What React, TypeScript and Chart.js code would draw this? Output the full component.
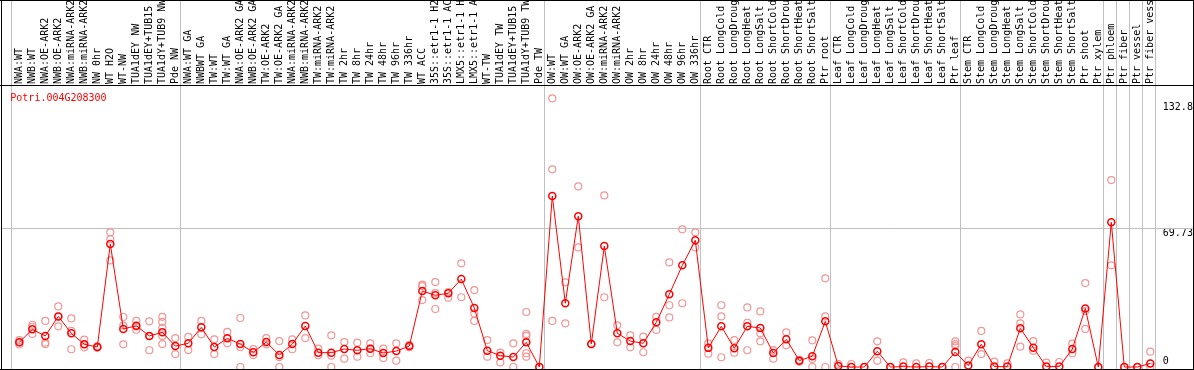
import React, { useEffect, useRef } from 'react';
import { Chart, registerables } from 'chart.js';

Chart.register(...registerables);

const title = 'Potri.004G208300';

const categories = [
  'NWA:WT', 'NWB:WT', 'NWA:OE-ARK2', 'NWB:OE-ARK2', 'NWA:miRNA-ARK2', 'NWB:miRNA-ARK2',
  'NW 0hr', 'WT H2O', 'WT-NW', 'TUA1dEY NW', 'TUA1dEY+TUB15 NW', 'TUA1dY+TUB9 NW', 'Pde NW',
  'NWA:WT GA', 'NWBWT GA', 'TW:WT', 'TW:WT GA', 'NWA:OE-ARK2 GA', 'NWB:OE-ARK2 GA',
  'TW:OE-ARK2', 'TW:OE-ARK2 GA', 'NWA:miRNA-ARK2 GA', 'NWB:miRNA-ARK2 GA', 'TW:miRNA-ARK2',
  'TW:miRNA-ARK2 GA', 'TW 2hr', 'TW 8hr', 'TW 24hr', 'TW 48hr', 'TW 96hr', 'TW 336hr',
  'WT ACC', '35S::etr1-1 H2O', '35S::etr1-1 ACC', 'LMX5::etr1-1 H2O', 'LMX5::etr1-1 ACC',
  'WT-TW', 'TUA1dEY TW', 'TUA1dEY+TUB15 TW', 'TUA1dY+TUB9 TW', 'Pde TW',
  'OW:WT', 'OW:WT GA', 'OW:OE-ARK2', 'OW:OE-ARK2 GA', 'OW:miRNA-ARK2', 'OW:miRNA-ARK2 GA',
  'OW 2hr', 'OW 8hr', 'OW 24hr', 'OW 48hr', 'OW 96hr', 'OW 336hr',
  'Root CTR', 'Root LongCold', 'Root LongDrought', 'Root LongHeat', 'Root LongSalt',
  'Root ShortCold', 'Root ShortDrought', 'Root ShortHeat', 'Root ShortSalt', 'Ptr root',
  'Leaf CTR', 'Leaf LongCold', 'Leaf LongDrought', 'Leaf LongHeat', 'Leaf LongSalt',
  'Leaf ShortCold', 'Leaf ShortDrought', 'Leaf ShortHeat', 'Leaf ShortSalt', 'Ptr leaf',
  'Stem CTR', 'Stem LongCold', 'Stem LongDrought', 'Stem LongHeat', 'Stem LongSalt',
  'Stem ShortCold', 'Stem ShortDrought', 'Stem ShortHeat', 'Stem ShortSalt', 'Ptr shoot',
  'Ptr xylem', 'Ptr phloem', 'Ptr fiber', 'Ptr vessel', 'Ptr fiber vessel',
];

const means = [
  12.4, 18.9, 15.6, 25.4, 16.9, 11.4, 10.0, 61.7, 19.1, 20.7, 15.6, 17.4, 10.5,
  11.9, 19.9, 10.0, 14.4, 11.5, 7.4, 12.5, 6.0, 11.5, 20.6, 7.2, 7.2, 9.0, 8.4, 9.2,
  7.0, 8.0, 10.5, 38.1, 36.0, 37.0, 44.1, 29.6, 8.2, 5.7, 5.0, 12.4, 0,
  85.8, 32.0, 75.7, 11.5, 60.7, 16.9, 13.0, 11.9, 22.4, 36.5, 51.0, 63.6,
  9.6, 20.4, 9.4, 20.4, 19.6, 7.0, 13.9, 3.2, 5.4, 22.9,
  0.5, 0, 0, 7.9, 0, 0.2, 0, 0.2, 0, 7.5,
  0.7, 11.4, 0.2, 0.2, 19.4, 9.7, 0.2, 0.2, 9.0, 29.4,
  0, 72.6, 0, 0, 1.8,
];

const replicates: number[][] = [
  [13.5, 11.3, 12.4], [21.2, 20.2, 16.6], [23.1, 12.2, 11.5], [30.4, 20.4, 25.4],
  [24.4, 18.1, 8.9], [13.7, 9.9, 11.4], [10.4, 9.6, 10.0], [67.6, 64.1, 53.5],
  [25.1, 11.4, 20.8], [23.1, 18.7, 20.3], [22.9, 8.4, 15.5], [25.2, 22.6, 19.7, 15.6, 11.5],
  [14.5, 6.5],
  [15.1, 8.5], [23.1, 16.4], [13.9, 6.5], [17.6, 11.9], [24.6, 0, 10.0], [9.0, 6.0],
  [14.5, 11.4], [13.0, 0, 5.0], [13.9, 8.9], [25.9, 14.5], [9.2, 5.9], [15.9, 0, 5.7],
  [12.5, 4.2], [12.2, 5.2], [11.9, 6.9, 9.2], [9.2, 4.5], [11.9, 3.2], [11.0, 9.9],
  [41.3, 40.6, 33.6], [42.6, 37.1, 29.1], [37.6, 34.8], [52.0, 35.0], [38.6, 26.9, 23.1],
  [13.5, 5.2], [7.2, 2.3], [11.9, 0], [27.6, 16.6, 15.6, 6.9, 5.2], [0],
  [134.8, 99.2, 23.1], [42.5, 21.9], [90.6, 60.0], [11.5], [86.1, 35.0], [20.9, 12.4],
  [15.9, 9.9], [15.2, 7.4], [25.2, 18.6], [52.5, 31.0, 24.9], [69.1, 32.0], [67.6, 60.0],
  [11.9, 6.7], [31.0, 25.4, 4.9], [13.5, 7.2], [29.9, 22.2, 8.4], [27.9, 16.9, 12.9],
  [8.5, 4.2], [17.4, 10.9], [3.6, 2.6], [13.4, 4.0, 0], [44.5, 25.4, 0],
  [1.5], [1.5], [0], [12.9, 3.2], [0], [2.3], [1.8], [2.0], [0], [12.9, 11.5, 10.5, 0],
  [3.2], [18.1, 6.5], [2.7], [1.8], [26.4, 21.9, 10.2], [13.0, 8.2], [2.2], [2.5],
  [11.7, 6.9], [42.1, 28.1, 19.1],
  [0], [93.8, 51.0], [0], [0], [7.7, 0],
];

// indices of the first category of each group (last entry = end of data)
const groupStarts = [0, 13, 41, 53, 63, 73, 84, 85, 86, 87, 88];

const yTickValues = [0, 69.73, 132.8];
const yTickLabels = ['0', '69.73', '132.8'];
const gridValue = 69.73;
const yMin = -1.0;
const yMax = 141;

const MONO = '"DejaVu Sans Mono", monospace';

export default function App() {
  const ref = useRef<HTMLCanvasElement>(null);

  useEffect(() => {
    const canvas = ref.current;
    if (!canvas) return;

    const repPoints = replicates.flatMap((vals, i) =>
      vals.map((v) => ({ x: categories[i], y: v }))
    );

    const decorPlugin = {
      id: 'decor',
      beforeDatasetsDraw(chart: any) {
        const { ctx } = chart;
        const x = chart.scales.x;
        const y = chart.scales.y;
        ctx.save();
        ctx.strokeStyle = '#c0c0c0';
        ctx.lineWidth = 1;
        const gy = Math.round(y.getPixelForValue(gridValue)) + 0.5;
        ctx.beginPath();
        ctx.moveTo(2, gy);
        ctx.lineTo(chart.width - 1, gy);
        ctx.stroke();
        const x0 = x.getPixelForValue(0);
        const step = x.getPixelForValue(1) - x0;
        groupStarts.forEach((i) => {
          const px = Math.round(x0 + step * i - 8) + 0.5;
          ctx.beginPath();
          ctx.moveTo(px, 0);
          ctx.lineTo(px, chart.height);
          ctx.stroke();
        });
        ctx.restore();
      },
      afterDraw(chart: any) {
        const { ctx, chartArea } = chart;
        const w = chart.width;
        const h = chart.height;
        ctx.save();
        ctx.fillStyle = '#000';
        ctx.fillRect(1, 0, 1, h);
        ctx.fillRect(w - 1, 0, 1, h);
        ctx.fillRect(0, 0, w, 1);
        ctx.fillRect(0, h - 1, w, 1);
        ctx.fillRect(0, Math.round(chartArea.top) - 1, w, 1);
        ctx.fillStyle = '#ff0000';
        ctx.font = `10px ${MONO}`;
        ctx.textAlign = 'left';
        ctx.textBaseline = 'alphabetic';
        ctx.fillText(title, chartArea.left - 2.5, chartArea.top + 14.5);
        ctx.restore();
      },
    };

    const chart = new Chart(canvas, {
      type: 'line',
      data: {
        labels: categories,
        datasets: [
          {
            label: 'mean',
            data: means,
            borderColor: '#ff0000',
            borderWidth: 1,
            pointRadius: 3.5,
            pointBorderWidth: 1.5,
            pointBorderColor: '#ff0000',
            pointBackgroundColor: 'rgba(0,0,0,0)',
            tension: 0,
            clip: false,
            order: 0,
          } as any,
          {
            label: 'replicates',
            data: repPoints as any,
            showLine: false,
            pointRadius: 3.5,
            pointBorderWidth: 1.2,
            pointBorderColor: 'rgb(240,150,150)',
            pointBackgroundColor: 'rgba(0,0,0,0)',
            clip: false,
            order: 1,
          } as any,
        ],
      },
      options: {
        animation: false,
        responsive: false,
        devicePixelRatio: 1,
        events: [],
        layout: { autoPadding: false, padding: { left: 12.8, right: 0, top: 0, bottom: 1 } },
        plugins: { legend: { display: false }, tooltip: { enabled: false } },
        scales: {
          x: {
            type: 'category',
            position: 'top',
            offset: true,
            grid: { display: false, drawTicks: false },
            border: { display: false },
            ticks: {
              autoSkip: false,
              minRotation: 90,
              maxRotation: 90,
              padding: 2,
              labelOffset: 12,
              color: '#000',
              font: { family: MONO, size: 10 },
            },
            afterFit(scale: any) {
              scale.height = 86;
              scale.paddingLeft = 0;
              scale.paddingRight = 0;
            },
          },
          y: {
            type: 'linear',
            position: 'right',
            min: yMin,
            max: yMax,
            bounds: 'data',
            grid: { display: false, drawTicks: false },
            border: { display: false },
            afterBuildTicks(axis: any) {
              axis.ticks = yTickValues.map((v) => ({ value: v }));
            },
            ticks: {
              padding: 6,
              color: '#000',
              font: { family: MONO, size: 10, lineHeight: 1.1 },
              callback(value: any) {
                const i = yTickValues.indexOf(Number(value));
                const label = i >= 0 ? yTickLabels[i] : '';
                return Number(value) === 0 ? [label, ''] : ['', label];
              },
            },
            afterFit(scale: any) {
              scale.width = 37.2;
              scale.paddingTop = 0;
              scale.paddingBottom = 0;
            },
          },
        },
      },
      plugins: [decorPlugin],
    });

    return () => chart.destroy();
  }, []);

  return (
    <div style={{ position: 'fixed', left: 0, top: 0, width: 1194, height: 370, background: '#fff' }}>
      <canvas ref={ref} width={1194} height={370} style={{ width: 1194, height: 370, display: 'block' }} />
    </div>
  );
}
